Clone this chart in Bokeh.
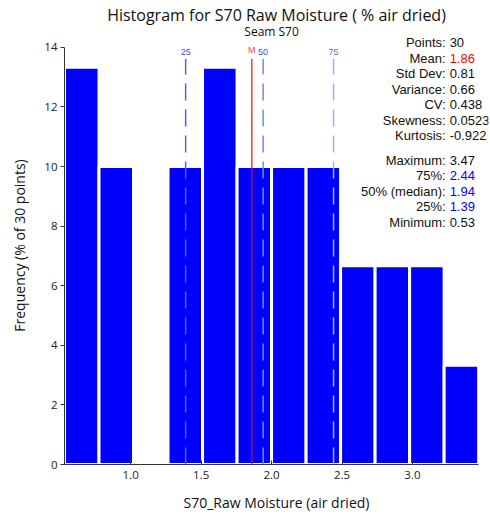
from bokeh.plotting import figure
from bokeh.models import Range1d, Label, FixedTicker, ColumnDataSource
from bokeh.embed import file_html
from bokeh.resources import INLINE

# ---- data ----
counts = [4, 3, 0, 3, 4, 3, 3, 3, 2, 2, 2, 1]
n_points = 30
x_min = 0.53
x_max = 3.47
mean_val = 1.86
quartile_names = ["25", "50", "75"]
quartile_vals = [1.39, 1.94, 2.44]
stat_names = ["Points:", "Mean:", "Std Dev:", "Variance:", "CV:", "Skewness:", "Kurtosis:"]
stat_vals = ["30", "1.86", "0.81", "0.66", "0.438", "0.0523", "-0.922"]
quant_names = ["Maximum:", "75%:", "50% (median):", "25%:", "Minimum:"]
quant_vals = ["3.47", "2.44", "1.94", "1.39", "0.53"]
x_ticks = [1.0, 1.5, 2.0, 2.5, 3.0]
y_ticks = [0, 2, 4, 6, 8, 10, 12, 14]
y_max = 14

freq = [c / n_points * 100 for c in counts]
n_bins = len(counts)
binw = (x_max - x_min) / n_bins
lefts = [x_min + i * binw for i in range(n_bins)]
rights = [l + binw for l in lefts]

FONT = "Open Sans"
SFONT = "Liberation Sans"

# frame extends beyond the data bounds so that the stats text is not clipped
x_pad = 0.07
y_pad = 0.70

p = figure(width=490, height=514, output_backend="svg", toolbar_location=None,
           x_range=Range1d(x_min, x_max + x_pad), y_range=Range1d(0, y_max + y_pad),
           min_border_left=64, min_border_right=2, min_border_top=24, min_border_bottom=50,
           title="Histogram for S70 Raw Moisture ( % air dried)")
p.title.align = "center"
p.title.text_font = FONT
p.title.text_font_size = "16px"
p.title.text_font_style = "normal"
p.title.text_color = "#111111"
p.title.standoff = 2
p.title.offset = 0

p.outline_line_color = None
p.xgrid.visible = False
p.ygrid.visible = False
p.background_fill_color = "white"
p.border_fill_color = "white"

src = ColumnDataSource(dict(left=lefts, right=rights, top=freq, bottom=[0] * n_bins))
p.quad(left="left", right="right", top="top", bottom="bottom", source=src,
       fill_color="#0000ff", line_color="white", line_width=3)

line_top = 13.62
colors_line = ["#4668dc", "#6e8ee6", "#9cb2f0"]
colors_lab = ["#3a4ff0", "#3a4ff0", "#5a70ff"]
p.segment(x0=quartile_vals, x1=quartile_vals, y0=[0] * 3, y1=[line_top] * 3,
          line_color=colors_line, line_width=1.5, line_dash="17 9")
p.segment(x0=[mean_val], x1=[mean_val], y0=[0], y1=[line_top], line_color="#ff0000", line_width=1.2)

for name, xv, c in zip(quartile_names, quartile_vals, colors_lab):
    p.add_layout(Label(x=xv, y=line_top, y_offset=4, text=name, text_align="center",
                       text_baseline="bottom", text_font=SFONT, text_font_size="9px", text_color=c))
p.add_layout(Label(x=mean_val, y=line_top, y_offset=4, text="M", text_align="center",
                   text_baseline="bottom", text_font=SFONT, text_font_size="9px", text_color="#ff4040"))

# subtitle
mid_x = (x_min + x_max) / 2
p.add_layout(Label(x=mid_x, y=y_max, y_offset=16, text="Seam S70", text_align="center",
                   text_baseline="middle", text_font=FONT, text_font_size="12px", text_color="#111111"))

# stats block
row_h = 15.5
SSIZE = "13px"
for i, (n, v) in enumerate(zip(stat_names, stat_vals)):
    off = 4.4 - row_h * i
    p.add_layout(Label(x=x_max, y=y_max, x_offset=-33, y_offset=off, text=n, text_align="right",
                       text_baseline="middle", text_font=SFONT, text_font_size=SSIZE, text_color="#111111"))
    p.add_layout(Label(x=x_max, y=y_max, x_offset=-29, y_offset=off, text=v, text_align="left",
                       text_baseline="middle", text_font=SFONT, text_font_size=SSIZE,
                       text_color="#ff0000" if n == "Mean:" else "#111111"))
for i, (n, v) in enumerate(zip(quant_names, quant_vals)):
    off = -112.9 - row_h * i
    p.add_layout(Label(x=x_max, y=y_max, x_offset=-33, y_offset=off, text=n, text_align="right",
                       text_baseline="middle", text_font=SFONT, text_font_size=SSIZE, text_color="#111111"))
    p.add_layout(Label(x=x_max, y=y_max, x_offset=-29, y_offset=off, text=v, text_align="left",
                       text_baseline="middle", text_font=SFONT, text_font_size=SSIZE,
                       text_color="#0000ff" if n in ("75%:", "50% (median):", "25%:") else "#111111"))

# axes
p.xaxis.ticker = FixedTicker(ticks=x_ticks)
p.xaxis.major_label_overrides = {t: f"{t:.1f}" for t in x_ticks}
p.xaxis.major_tick_out = 0
p.xaxis.major_tick_in = 4
p.xaxis.minor_tick_line_color = None
p.xaxis.axis_line_color = "#333333"
p.xaxis.axis_label = "S70_Raw Moisture (air dried)"
p.xaxis.bounds = (x_min, x_max)

p.yaxis.ticker = FixedTicker(ticks=y_ticks)
p.yaxis.major_tick_out = 4
p.yaxis.major_tick_in = 0
p.yaxis.minor_tick_line_color = None
p.yaxis.axis_line_color = "#333333"
p.yaxis.axis_label = "Frequency (% of 30 points)"
p.yaxis.bounds = (0, y_max)

for ax in (p.xaxis, p.yaxis):
    ax.axis_label_text_font = FONT
    ax.axis_label_text_font_size = "14px"
    ax.axis_label_text_font_style = "normal"
    ax.major_label_text_font = FONT
    ax.major_label_text_font_size = "11.5px"
    ax.major_label_text_color = "#222222"
    ax.axis_label_text_color = "#111111"
    ax.major_tick_line_color = "#333333"
p.xaxis.major_label_standoff = 6
p.xaxis.axis_label_standoff = 11
p.yaxis.major_label_standoff = 3
p.yaxis.axis_label_standoff = 12

open("out.html", "w").write(file_html(p, INLINE))
